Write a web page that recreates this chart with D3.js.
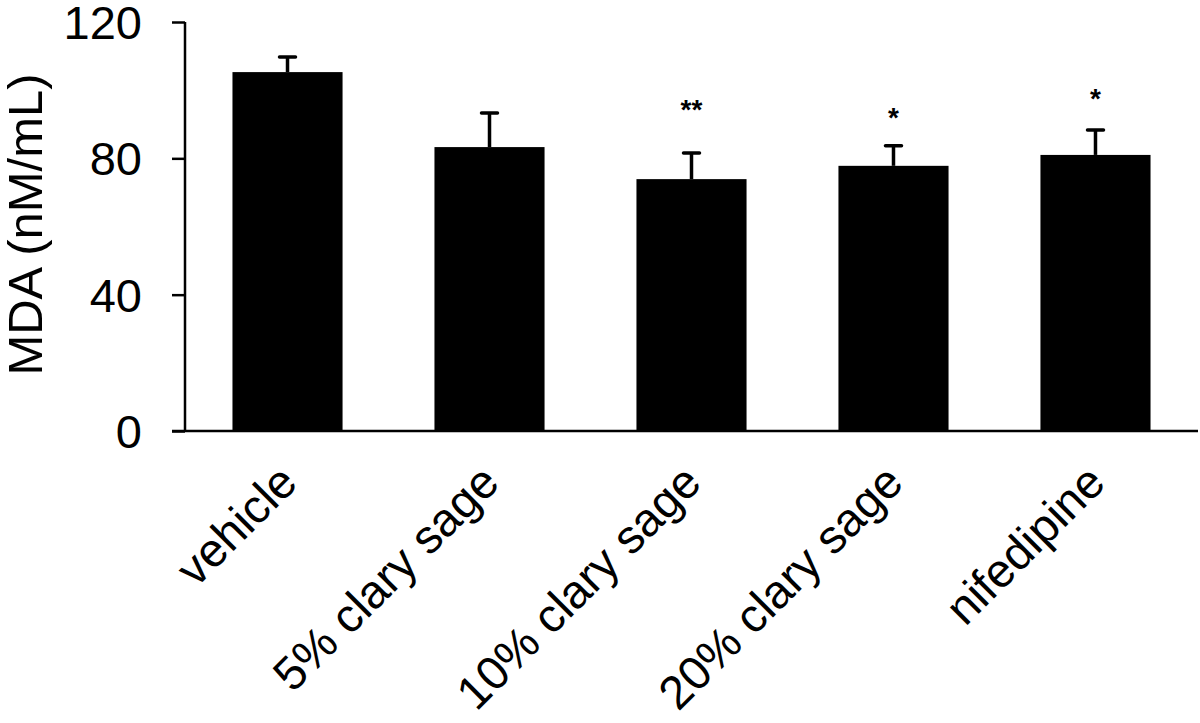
<!DOCTYPE html>
<html>
<head>
<meta charset="utf-8">
<script src="https://cdn.jsdelivr.net/npm/d3@7"></script>
<style>
  body { margin: 0; background: #fff; }
  svg text { font-family: "Liberation Sans", Arial, sans-serif; fill: #000; }
</style>
</head>
<body>
<div id="chart"></div>
<script>
// values
const groups = ['vehicle', '5% clary sage', '10% clary sage', '20% clary sage', 'nifedipine'];
const means = [105.3, 83.3, 73.9, 77.8, 81.0];
const sems = [4.4, 10.0, 7.7, 5.9, 7.3];
const marks = ['', '', '**', '*', '*'];
const markAt = [0, 0, 96.2, 93.9, 99.5];
const yTicks = [0, 40, 80, 120];

const width = 1200, height = 723;
const margin = { left: 185, right: 2, top: 22, bottom: 292 };

const svg = d3.select('#chart').append('svg')
  .attr('width', width)
  .attr('height', height);

const x = d3.scaleBand()
  .domain(groups)
  .range([margin.left, width - margin.right])
  .paddingInner(0.455)
  .paddingOuter(0.235);

const y = d3.scaleLinear()
  .domain([0, 120])
  .range([height - margin.bottom, margin.top]);

const cx = d => x(d) + x.bandwidth() / 2;

// bars
svg.selectAll('.bar')
  .data(groups)
  .enter()
  .append('rect')
  .attr('class', 'bar')
  .attr('x', d => x(d))
  .attr('width', x.bandwidth())
  .attr('y', (d, i) => y(means[i]))
  .attr('height', (d, i) => y(0) - y(means[i]))
  .attr('fill', '#000');

// error bars, upper half only
const err = svg.selectAll('.err')
  .data(groups)
  .enter()
  .append('g')
  .attr('class', 'err')
  .attr('stroke', '#000')
  .attr('stroke-width', 3.5);

err.append('line')
  .attr('x1', cx)
  .attr('x2', cx)
  .attr('y1', (d, i) => y(means[i]))
  .attr('y2', (d, i) => y(means[i] + sems[i]));

err.append('line')
  .attr('x1', d => cx(d) - 8)
  .attr('x2', d => cx(d) + 8)
  .attr('y1', (d, i) => y(means[i] + sems[i]))
  .attr('y2', (d, i) => y(means[i] + sems[i]))
  .attr('stroke-linecap', 'round');

// significance stars (dy puts the glyph centre on the value)
svg.selectAll('.sig')
  .data(groups)
  .enter()
  .append('text')
  .attr('class', 'sig')
  .attr('x', cx)
  .attr('y', (d, i) => y(markAt[i]))
  .attr('dy', '0.58em')
  .attr('text-anchor', 'middle')
  .attr('font-size', 28)
  .attr('font-weight', 'bold')
  .text((d, i) => marks[i]);

// y axis
const yAxis = svg.append('g')
  .attr('transform', `translate(${margin.left},0)`)
  .call(d3.axisLeft(y).tickValues(yTicks).tickSize(13).tickPadding(30));
yAxis.select('.domain').attr('stroke-width', 2.5).attr('d', `M0,${y(120)}V${y(0)}`);
yAxis.selectAll('.tick line').attr('stroke-width', 2.5);
yAxis.selectAll('.tick text')
  .attr('font-size', 47)
  .attr('dy', '0.35em')
  .attr('font-family', '"Liberation Sans", Arial, sans-serif');

// x axis line
svg.append('line')
  .attr('x1', margin.left - 13)
  .attr('x2', width - margin.right)
  .attr('y1', y(0))
  .attr('y2', y(0))
  .attr('stroke', '#000')
  .attr('stroke-width', 2.5);

// x labels
svg.selectAll('.xlab')
  .data(groups)
  .enter()
  .append('text')
  .attr('class', 'xlab')
  .attr('text-anchor', 'end')
  .attr('font-size', 47)
  .attr('transform', d => `translate(${cx(d) + 12},${y(0) + 54}) rotate(-45)`)
  .text(d => d);

// y title
svg.append('text')
  .attr('text-anchor', 'middle')
  .attr('font-size', 49)
  .attr('transform', `translate(42,${(y(0) + y(120)) / 2 - 2}) rotate(-90)`)
  .text('MDA (nM/mL)');
</script>
</body>
</html>
